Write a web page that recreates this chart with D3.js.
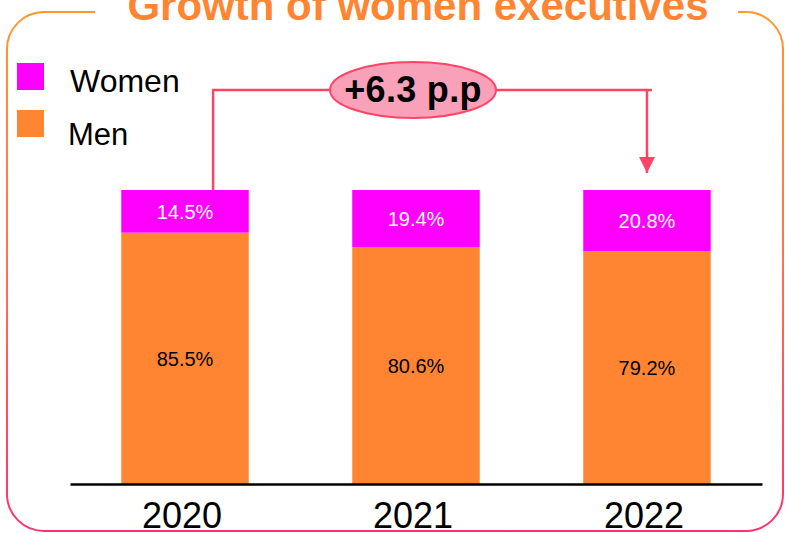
<!DOCTYPE html>
<html>
<head>
<meta charset="utf-8">
<script src="https://cdn.jsdelivr.net/npm/d3@7"></script>
<style>
  html, body { margin: 0; padding: 0; background: #fff; }
  svg { display: block; font-family: "Liberation Sans", Arial, sans-serif; }
</style>
</head>
<body>
<svg id="chart" width="785" height="533"></svg>
<script>
// Share of executives by gender (percent of total)
const years = ["2020", "2021", "2022"];
const women = [14.5, 19.4, 20.8];
const men = [85.5, 80.6, 79.2];
const seriesNames = ["Women", "Men"];
const changeLabel = "+6.3 p.p";
const title = "Growth of women executives";

const colors = { Women: "#ff00ff", Men: "#ff8533" };
const annoColor = "#ff4466";

const svg = d3.select("#chart");
const W = 785, H = 533;

// Gradient for the frame (orange at top fading to pink at the bottom)
const defs = svg.append("defs");
const grad = defs.append("linearGradient")
  .attr("id", "frameGrad")
  .attr("gradientUnits", "userSpaceOnUse")
  .attr("x1", 0).attr("y1", 0).attr("x2", 0).attr("y2", H);
grad.append("stop").attr("offset", "0%").attr("stop-color", "#ff9a2e");
grad.append("stop").attr("offset", "55%").attr("stop-color", "#ff6a5a");
grad.append("stop").attr("offset", "100%").attr("stop-color", "#ff3070");

// Rounded frame with a gap in the top edge for the title
const fx0 = 7, fy0 = 12, fx1 = 783, fy1 = 531, r = 37;
const frame = d3.path();
frame.moveTo(95, fy0);
frame.lineTo(fx0 + r, fy0);
frame.arcTo(fx0, fy0, fx0, fy0 + r, r);
frame.lineTo(fx0, fy1 - r);
frame.arcTo(fx0, fy1, fx0 + r, fy1, r);
frame.lineTo(fx1 - r, fy1);
frame.arcTo(fx1, fy1, fx1, fy1 - r, r);
frame.lineTo(fx1, fy0 + r);
frame.arcTo(fx1, fy0, fx1 - r, fy0, r);
frame.lineTo(738, fy0);
svg.append("path")
  .attr("d", frame.toString())
  .attr("fill", "none")
  .attr("stroke", "url(#frameGrad)")
  .attr("stroke-width", 2);

// Title
svg.append("text")
  .attr("x", 418).attr("y", 20)
  .attr("text-anchor", "middle")
  .attr("font-size", 42)
  .attr("font-weight", "bold")
  .attr("fill", "#ff8533")
  .text(title);

// Scales
const x = d3.scaleBand()
  .domain(years)
  .range([70, 762])
  .paddingInner(0.448)
  .paddingOuter(0.222);
const y = d3.scaleLinear().domain([0, 100]).range([484, 190]);

// Stack data
const rows = years.map((yr, i) => ({ year: yr, Men: men[i], Women: women[i] }));
const stack = d3.stack().keys(["Men", "Women"]);
const layers = stack(rows);

const g = svg.append("g");
layers.forEach(layer => {
  g.selectAll(null)
    .data(layer)
    .join("rect")
    .attr("x", d => x(d.data.year))
    .attr("y", d => y(d[1]))
    .attr("width", x.bandwidth())
    .attr("height", d => y(d[0]) - y(d[1]))
    .attr("fill", colors[layer.key]);

  g.selectAll(null)
    .data(layer)
    .join("text")
    .attr("x", d => x(d.data.year) + x.bandwidth() / 2)
    .attr("y", d => (y(d[0]) + y(d[1])) / 2)
    .attr("dy", "0.36em")
    .attr("text-anchor", "middle")
    .attr("font-size", 20)
    .attr("fill", layer.key === "Women" ? "#ffffff" : "#000000")
    .text(d => d.data[layer.key].toFixed(1) + "%");
});

// Category axis
const axis = svg.append("g")
  .attr("transform", `translate(0,${y(0)})`)
  .call(d3.axisBottom(x).tickSize(0).tickPadding(18).tickSizeOuter(0));
axis.select(".domain").attr("stroke", "#000").attr("stroke-width", 2.5);
axis.selectAll(".tick text")
  .attr("font-size", 36)
  .attr("font-family", "Liberation Sans, Arial, sans-serif")
  .attr("fill", "#000")
  .attr("dx", -3);

// Legend
const legend = svg.append("g");
const legendRows = [
  { name: seriesNames[0], sy: 63, tx: 70, ty: 92, fs: 32 },
  { name: seriesNames[1], sy: 110, tx: 68, ty: 145, fs: 31 }
];
legendRows.forEach(l => {
  legend.append("rect")
    .attr("x", 17).attr("y", l.sy)
    .attr("width", 27).attr("height", 27)
    .attr("fill", colors[l.name]);
  legend.append("text")
    .attr("x", l.tx).attr("y", l.ty)
    .attr("font-size", l.fs)
    .attr("fill", "#000")
    .text(l.name);
});

// Change annotation: connector from the 2020 bar to an arrow over the 2022 bar
const lineY = 90;
const startX = x(years[0]) + x.bandwidth() * 0.72;
const endX = x(years[2]) + x.bandwidth() / 2;
const midX = x(years[1]) + x.bandwidth() / 2 - 3;
const tipY = y(100) - 17;

defs.append("marker")
  .attr("id", "arrowHead")
  .attr("viewBox", "0 0 10 10")
  .attr("refX", 10).attr("refY", 5)
  .attr("markerWidth", 16).attr("markerHeight", 16)
  .attr("markerUnits", "userSpaceOnUse")
  .attr("orient", "auto")
  .append("path")
  .attr("d", "M0,0 L10,5 L0,10 Z")
  .attr("fill", annoColor);

svg.append("path")
  .attr("d", `M${startX},${y(100)} V${lineY} H${endX + 5}`)
  .attr("fill", "none")
  .attr("stroke", annoColor)
  .attr("stroke-width", 2.5);
svg.append("line")
  .attr("x1", endX).attr("y1", lineY)
  .attr("x2", endX).attr("y2", tipY)
  .attr("stroke", annoColor)
  .attr("stroke-width", 2.5)
  .attr("marker-end", "url(#arrowHead)");

svg.append("ellipse")
  .attr("cx", midX).attr("cy", lineY)
  .attr("rx", 83).attr("ry", 28)
  .attr("fill", "#f9a1b9")
  .attr("stroke", annoColor)
  .attr("stroke-width", 2);
svg.append("text")
  .attr("x", midX).attr("y", 102)
  .attr("text-anchor", "middle")
  .attr("font-size", 36)
  .attr("font-weight", "bold")
  .attr("letter-spacing", 0.3)
  .attr("fill", "#000")
  .text(changeLabel);
</script>
</body>
</html>
